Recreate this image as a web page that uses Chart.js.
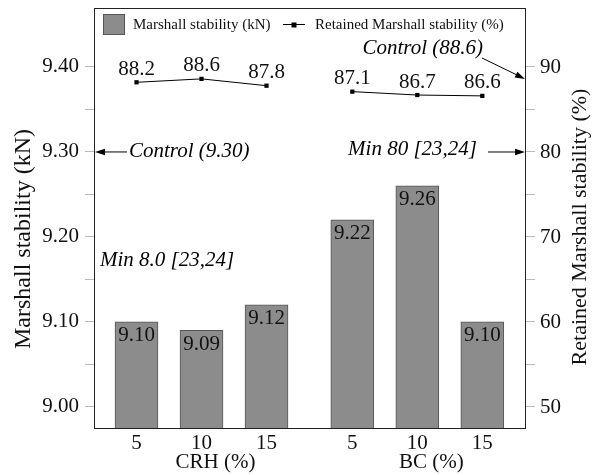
<!DOCTYPE html>
<html>
<head>
<meta charset="utf-8">
<script src="https://cdn.jsdelivr.net/npm/chart.js@4/dist/chart.umd.min.js"></script>
<style>
  html, body { margin: 0; padding: 0; background: #fff; }
  #wrap { width: 595px; height: 475px; }
</style>
</head>
<body>
<div id="wrap"><canvas id="stabilityChart" width="595" height="475"></canvas></div>
<script>
// Chart data
const categories = ['5', '10', '15'];
const groups = ['CRH (%)', 'BC (%)'];
const crhStability = [9.10, 9.09, 9.12];   // kN
const bcStability = [9.22, 9.26, 9.10];    // kN
const crhRetained = [88.2, 88.6, 87.8];    // %
const bcRetained = [87.1, 86.7, 86.6];     // %
const leftTicks = [9.00, 9.05, 9.10, 9.15, 9.20, 9.25, 9.30, 9.35, 9.40];
const leftTickLabels = ['9.00', '', '9.10', '', '9.20', '', '9.30', '', '9.40'];
const rightTicks = [50, 55, 60, 65, 70, 75, 80, 85, 90];
const rightTickLabels = ['50', '', '60', '', '70', '', '80', '', '90'];
const controlStability = 9.30;
const controlRetained = 88.6;
const minRetained = 80;

// Layout helpers
const SERIF = "'Liberation Serif', 'Times New Roman', serif";
const GROUP_GAP = 0.32;
const xPos = (g, i) => g * (categories.length + GROUP_GAP) + i;
const xTickValues = [...categories.map((c, i) => xPos(0, i)), ...categories.map((c, i) => xPos(1, i))];
const xTickLabels = [...categories, ...categories];

const barData = [
    ...crhStability.map((v, i) => ({ x: xPos(0, i), y: v })),
    ...bcStability.map((v, i) => ({ x: xPos(1, i), y: v }))
];
const lineData = [
    ...crhRetained.map((v, i) => ({ x: xPos(0, i), y: v })),
    { x: xPos(0, 2) + (1 + GROUP_GAP) / 2, y: null },
    ...bcRetained.map((v, i) => ({ x: xPos(1, i), y: v }))
];

function drawArrow(ctx, x1, y1, x2, y2) {
    const ang = Math.atan2(y2 - y1, x2 - x1);
    const len = 10, half = 3.2;
    ctx.beginPath();
    ctx.moveTo(x1, y1);
    ctx.lineTo(x2 - Math.cos(ang) * len * 0.8, y2 - Math.sin(ang) * len * 0.8);
    ctx.stroke();
    ctx.beginPath();
    ctx.moveTo(x2, y2);
    ctx.lineTo(x2 - Math.cos(ang) * len - Math.sin(ang) * half, y2 - Math.sin(ang) * len + Math.cos(ang) * half);
    ctx.lineTo(x2 - Math.cos(ang) * len + Math.sin(ang) * half, y2 - Math.sin(ang) * len - Math.cos(ang) * half);
    ctx.closePath();
    ctx.fill();
}

// keep the plot box where the original has it
function noEdgePadding(s) {
    s.paddingTop = 0;
    s.paddingBottom = 0;
    s.paddingLeft = 0;
    s.paddingRight = 0;
}

// Frame, value labels, legend, annotations and axis titles
const overlayPlugin = {
    id: 'overlay',
    afterDatasetsDraw(chart) {
        const { ctx, chartArea: a, scales } = chart;
        const yL = scales.y, yR = scales.y2, x = scales.x;
        ctx.save();

        // frame
        ctx.strokeStyle = '#222';
        ctx.lineWidth = 1;
        ctx.strokeRect(a.left + 0.5, a.top + 0.5, a.right - a.left - 1, a.bottom - a.top - 1);

        ctx.fillStyle = '#111';
        ctx.textAlign = 'center';
        ctx.textBaseline = 'middle';
        ctx.font = '21px ' + SERIF;

        // bar value labels
        const bars = chart.getDatasetMeta(0).data;
        const barVals = [...crhStability, ...bcStability];
        bars.forEach((bar, i) => {
            ctx.fillText(barVals[i].toFixed(2), bar.x, bar.y + 14);
        });

        // retained labels
        const pts = chart.getDatasetMeta(1).data;
        pts.forEach((pt, i) => {
            const v = lineData[i].y;
            if (v === null) return;
            ctx.fillText(v.toFixed(1), pt.x, pt.y - 13);
        });

        // group labels
        groups.forEach((g, gi) => {
            const cx = x.getPixelForValue(xPos(gi, 1)) + 14;
            ctx.fillText(g, cx, 462);
        });

        // legend
        ctx.fillStyle = '#8c8c8c';
        ctx.fillRect(a.left + 9, a.top + 6, 22, 21);
        ctx.strokeStyle = '#555';
        ctx.strokeRect(a.left + 9.5, a.top + 6.5, 21, 20);
        ctx.fillStyle = '#111';
        ctx.font = '15px ' + SERIF;
        ctx.textAlign = 'left';
        ctx.fillText('Marshall stability (kN)', a.left + 39, a.top + 17);
        ctx.strokeStyle = '#000';
        ctx.beginPath();
        ctx.moveTo(a.left + 189, a.top + 16.5);
        ctx.lineTo(a.left + 211, a.top + 16.5);
        ctx.stroke();
        ctx.fillStyle = '#000';
        ctx.fillRect(a.left + 197.5, a.top + 14.5, 5, 5);
        ctx.fillStyle = '#111';
        ctx.fillText('Retained Marshall stability (%)', a.left + 221, a.top + 17);

        // annotations
        ctx.font = 'italic 21px ' + SERIF;
        ctx.strokeStyle = '#000';
        ctx.fillStyle = '#000';
        ctx.lineWidth = 1;
        const yc = yL.getPixelForValue(controlStability);
        ctx.textAlign = 'left';
        ctx.fillText('Control (9.30)', a.left + 35, yc);
        drawArrow(ctx, a.left + 33, yc, a.left + 1, yc);
        ctx.fillText('Min 8.0 [23,24]', a.left + 6, yL.getPixelForValue(9.172));

        const ym = yR.getPixelForValue(minRetained);
        ctx.textAlign = 'right';
        ctx.fillText('Min 80 [23,24]', a.right - 49, ym - 3);
        drawArrow(ctx, a.right - 38, ym, a.right - 1, ym);

        const yr = yR.getPixelForValue(controlRetained);
        ctx.fillText('Control (88.6)', a.right - 43, a.top + 40);
        drawArrow(ctx, a.right - 44, a.top + 50, a.right - 1, yr);

        // axis titles
        ctx.textAlign = 'center';
        ctx.fillStyle = '#111';
        ctx.save();
        ctx.font = '24px ' + SERIF;
        ctx.translate(24, 239);
        ctx.rotate(-Math.PI / 2);
        ctx.fillText('Marshall stability (kN)', 0, 0);
        ctx.restore();
        ctx.save();
        ctx.font = '22px ' + SERIF;
        ctx.translate(580, 227);
        ctx.rotate(-Math.PI / 2);
        ctx.fillText('Retained Marshall stability (%)', 0, 0);
        ctx.restore();

        ctx.restore();
    }
};

const tickFont = { family: SERIF, size: 21 };

new Chart(document.getElementById('stabilityChart').getContext('2d'), {
    type: 'bar',
    data: {
        datasets: [{
            type: 'bar',
            label: 'Marshall stability (kN)',
            data: barData,
            yAxisID: 'y',
            backgroundColor: '#8c8c8c',
            borderColor: '#555',
            borderWidth: 1,
            barThickness: 43
        }, {
            type: 'line',
            label: 'Retained Marshall stability (%)',
            data: lineData,
            yAxisID: 'y2',
            borderColor: '#000',
            borderWidth: 1,
            backgroundColor: '#000',
            pointStyle: 'rect',
            pointRadius: 3,
            pointBorderWidth: 0,
            spanGaps: false,
            tension: 0
        }]
    },
    options: {
        responsive: false,
        animation: false,
        devicePixelRatio: 1,
        layout: { padding: { top: 8, left: 0, right: 0, bottom: 0 } },
        plugins: {
            legend: { display: false },
            tooltip: { enabled: false }
        },
        scales: {
            x: {
                type: 'linear',
                offset: false,
                min: -0.654,
                max: 5.992,
                grid: { display: false, drawTicks: false, tickLength: 0 },
                border: { display: false },
                afterBuildTicks: s => { s.ticks = xTickValues.map(v => ({ value: v })); },
                afterFit: s => { s.height = 46; noEdgePadding(s); },
                ticks: {
                    autoSkip: false,
                    maxRotation: 0,
                    padding: 2,
                    color: '#111',
                    font: tickFont,
                    callback: (v, i) => xTickLabels[i]
                }
            },
            y: {
                position: 'left',
                min: 8.974,
                max: 9.4694,
                border: { display: false },
                grid: { drawOnChartArea: false, tickLength: 9, color: '#bbb' },
                afterBuildTicks: s => { s.ticks = leftTicks.map(v => ({ value: v })); },
                afterFit: s => { s.width = 94; noEdgePadding(s); },
                ticks: {
                    autoSkip: false,
                    padding: 6,
                    color: '#111',
                    font: tickFont,
                    callback: (v, i) => leftTickLabels[i]
                }
            },
            y2: {
                position: 'right',
                min: 47.41,
                max: 96.94,
                border: { display: false },
                grid: { drawOnChartArea: false, tickLength: 9, color: '#bbb' },
                afterBuildTicks: s => { s.ticks = rightTicks.map(v => ({ value: v })); },
                afterFit: s => { s.width = 69; noEdgePadding(s); },
                ticks: {
                    autoSkip: false,
                    padding: 5,
                    color: '#111',
                    font: tickFont,
                    callback: (v, i) => rightTickLabels[i]
                }
            }
        }
    },
    plugins: [overlayPlugin]
});
</script>
</body>
</html>
